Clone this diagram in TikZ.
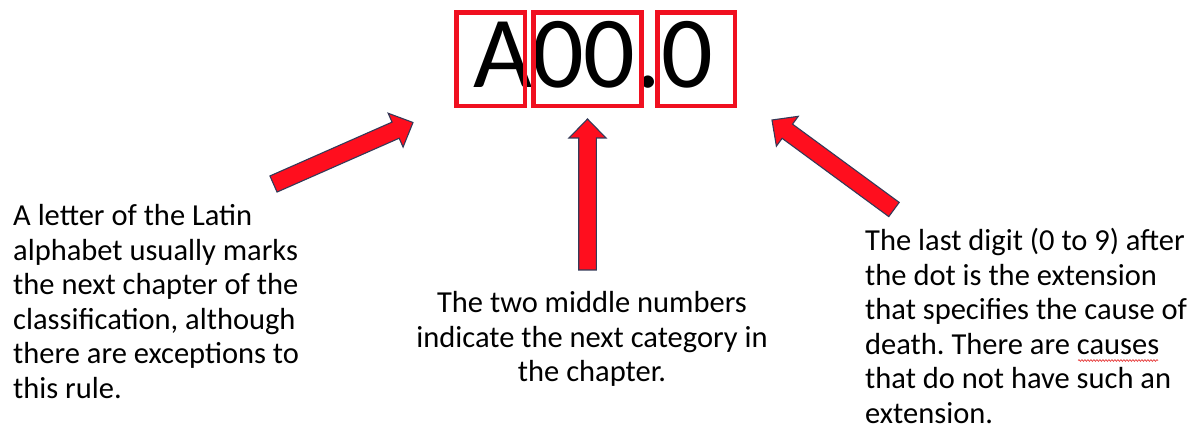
\documentclass[tikz,border=0pt]{standalone}
\usepackage{fontspec}
\setmainfont{Carlito}
\usetikzlibrary{calc,decorations.pathmorphing}
\frenchspacing

\definecolor{boxred}{RGB}{240,16,32}
\definecolor{arrowred}{RGB}{255,14,30}
\definecolor{arrowedge}{RGB}{52,58,88}
\definecolor{spellred}{RGB}{230,60,60}

% fixed natural word spacing of the current font inside aligned nodes
\newcommand{\natspace}{\spaceskip=\fontdimen2\font\relax\xspaceskip=\fontdimen2\font\relax}

% block arrow from #1 (tail) to #2 (tip)
\newcommand{\blockarrow}[2]{%
  \coordinate (h) at ($(#2)!19pt!(#1)$);
  \draw[arrowbody]
    ($(#1)!8.8pt!90:(#2)$) -- ($(h)!8.8pt!-90:(#1)$) -- ($(h)!18.5pt!-90:(#1)$)
    -- (#2) -- ($(h)!18.5pt!90:(#1)$) -- ($(h)!8.8pt!90:(#1)$)
    -- ($(#1)!8.8pt!-90:(#2)$) -- cycle;}

\begin{document}
\begin{tikzpicture}[x=1pt,y=-1pt,
  codebox/.style={draw=boxred,line width=4.5pt},
  arrowbody/.style={fill=arrowred,draw=arrowedge,line width=1.1pt,line join=miter},
  bodytext/.style={inner sep=0pt,font=\fontsize{30.5}{34.5}\selectfont},
  codetext/.style={inner sep=0pt,anchor=base west,font=\fontsize{102}{110}\selectfont}]
\useasboundingbox (0,0) rectangle (1200,443);

% the code and its three parts
\node[codetext] (code) at (473,88) {A00.0};
\draw[codebox] (456.5,12.5) rectangle (525,106);
\draw[codebox] (533.5,12.5) rectangle (641.5,106);
\draw[codebox] (657.5,12.5) rectangle (735,106);

% arrow end points
\coordinate (ltail) at (273.5,184);
\coordinate (ltip)  at (413,122.5);
\coordinate (mtail) at (587.5,270);
\coordinate (mtip)  at (587.5,119);
\coordinate (rtail) at (894,209.5);
\coordinate (rtip)  at (772,120);

\blockarrow{ltail}{ltip}
\blockarrow{mtail}{mtip}
\blockarrow{rtail}{rtip}

% explanations
\node[bodytext,anchor=base west,text width=330pt,align=left] (left) at (13,226)
  {\natspace A letter of the Latin\\ alphabet usually marks\\ the next chapter of the\\ classification, although\\ there are exceptions to\\ this rule.};
\node[bodytext,anchor=base,text width=420pt,align=center] (mid) at (592,313)
  {\natspace The two middle numbers\\ indicate the next category in\\ the chapter.};
\node[bodytext,anchor=base west,text width=335pt,align=left] (right) at (865,251)
  {\natspace The last digit (0 to 9) after\\ the dot is the extension\\ that specifies the cause of\\ death. There are causes\\ that do not have such an\\ extension.};

% spelling mark under "causes"
\coordinate (ws) at (1078,360.5);
\coordinate (we) at (1158,360.5);
\draw[spellred,line width=0.7pt,decorate,decoration={snake,amplitude=0.9pt,segment length=3pt}] (ws) -- (we);
\end{tikzpicture}
\end{document}
